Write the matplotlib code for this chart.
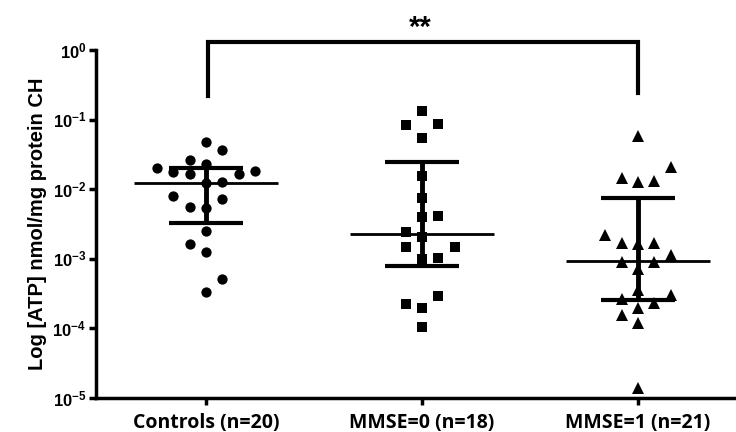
import matplotlib
matplotlib.use('Agg')
import matplotlib.pyplot as plt
from matplotlib.ticker import FixedLocator, NullLocator

plt.rcParams['mathtext.fontset'] = 'custom'
plt.rcParams['mathtext.bf'] = 'Liberation Sans:bold'
plt.rcParams['mathtext.rm'] = 'Liberation Sans:bold'
plt.rcParams['mathtext.default'] = 'bf'

groups = ['Controls (n=20)', 'MMSE=0 (n=18)', 'MMSE=1 (n=21)']

# ATP values, with jitter column of each point
controls = [0.048, 0.0366, 0.026, 0.0204, 0.0228, 0.0175, 0.0164, 0.0165, 0.0185, 0.0121,
            0.0128, 0.0081, 0.0072, 0.0056, 0.0053, 0.0025, 0.00163, 0.00124, 0.000507, 0.00033]
controls_col = [0, 1, -1, -3, 0, -2, -1, 2, 3, 0, 1, -2, 1, -1, 0, 0, -1, 0, 1, 0]

mmse0 = [0.133, 0.0836, 0.0865, 0.0538, 0.0157, 0.0074, 0.0040, 0.0041, 0.0024, 0.00203,
         0.00149, 0.00149, 0.00099, 0.00104, 0.000295, 0.000224, 0.000195, 0.000106]
mmse0_col = [0, -1, 1, 0, 0, 0, 0, 1, -1, 0, -1, 2, 0, 1, 1, -1, 0, 0]

mmse1 = [0.058, 0.0211, 0.0146, 0.0128, 0.0131, 0.0022, 0.00167, 0.00162, 0.0017, 0.00113,
         0.00091, 0.00091, 0.000706, 0.000356, 0.0003, 0.000264, 0.000234, 0.000195,
         0.000155, 0.000118, 0.0000138]
mmse1_col = [0, 2, -1, 0, 1, -2, -1, 0, 1, 2, -1, 1, 0, 0, 2, -1, 1, 0, -1, 0, 0]

# centre line and error bar ends
centre = [0.0124, 0.00225, 0.00094]
upper = [0.0200, 0.0243, 0.0074]
lower = [0.0033, 0.00080, 0.000257]

yticks = [1e-5, 1e-4, 1e-3, 1e-2, 1e-1, 1e0]
ytick_labels = ['$10^{-5}$', '$10^{-4}$', '$10^{-3}$', '$10^{-2}$', '$10^{-1}$', '$10^{0}$']

STEP = 0.076
markers = ['o', 's', '^']
sizes = [7.4, 7.8, 8.0]

fig = plt.figure(figsize=(7.36, 4.32), dpi=100)
ax = fig.add_axes([0.1304, 0.0787, 0.8696, 0.8056])

data = [(controls, controls_col), (mmse0, mmse0_col), (mmse1, mmse1_col)]
for i, (vals, cols) in enumerate(data):
    pos = i + 1
    xs = [pos + c * STEP for c in cols]
    ax.plot(xs, vals, linestyle='none', marker=markers[i], markersize=sizes[i],
            color='black', markeredgewidth=0, zorder=3, clip_on=False)
    ax.hlines(centre[i], pos - 0.335, pos + 0.335, color='black', linewidth=2, zorder=4)
    ax.vlines(pos, lower[i], upper[i], color='black', linewidth=3.5, zorder=4)
    ax.hlines([lower[i], upper[i]], pos - 0.17, pos + 0.17, color='black', linewidth=3, zorder=4)

ax.set_yscale('log')
ax.set_ylim(1e-5, 1)
ax.set_xlim(0.491, 3.454)

# significance bracket between controls and MMSE=1
ax.plot([1.01, 1.01, 3.0, 3.0], [0.22, 1.3, 1.3, 0.24], color='black', linewidth=3,
        clip_on=False, solid_joinstyle='miter')
ax.text(1.99, 2.1, '**', ha='center', va='center', fontsize=21, fontweight='bold',
        family='Liberation Sans')

ax.yaxis.set_major_locator(FixedLocator(yticks))
ax.yaxis.set_minor_locator(NullLocator())
ax.set_yticklabels(ytick_labels, fontsize=12)
ax.set_xticks([1, 2, 3])
ax.set_xticklabels(groups, fontsize=14, fontweight='bold', family='Open Sans')

for side in ['top', 'right']:
    ax.spines[side].set_visible(False)
for side in ['left', 'bottom']:
    ax.spines[side].set_linewidth(2.5)
ax.tick_params(axis='both', width=2.5, length=5, direction='out')
ax.tick_params(axis='x', pad=6)
ax.tick_params(axis='y', pad=2)

ax.set_ylabel('Log [ATP] nmol/mg protein CH', fontsize=14.5, fontweight='bold',
              family='Liberation Sans', labelpad=4)

fig.savefig('out.png', dpi=100)
